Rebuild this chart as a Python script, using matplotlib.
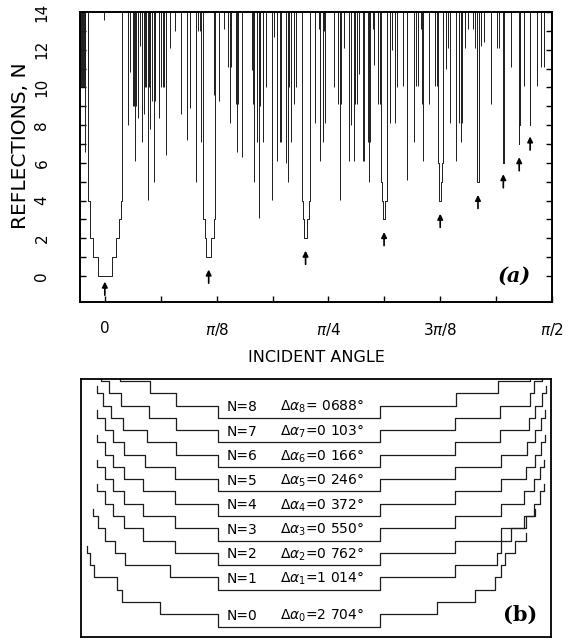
import numpy as np
import matplotlib
matplotlib.use("Agg")
import matplotlib.pyplot as plt
from matplotlib.ticker import FixedLocator

plt.rcParams['font.family'] = ['DejaVu Sans']
plt.rcParams['mathtext.fontset'] = 'dejavusans'

# ---------------- data : panel (a) ----------------
dip_N = [0, 1, 2, 3, 4, 5, 6, 7, 8]
dip_angle_deg = [0.0, 20.9, 40.4, 56.2, 67.5, 75.1, 80.2, 83.4, 85.6]
arrow_tip_N = [-0.3, 0.34, 1.34, 2.33, 3.3, 4.3, 5.4, 6.3, 7.4]
delta_alpha_deg = [2.704, 1.014, 0.762, 0.550, 0.372, 0.246, 0.166, 0.103, 0.0688]
delta_alpha_text = ['2 704', '1 014', '0 762', '0 550', '0 372', '0 246', '0 166', '0 103', ' 0688']

# narrow spikes: angle (deg) and lowest reflection count reached
spike_deg = [-4.9, -4.7, -4.5, -4.3, -4.1, -3.95, -4.0, -0.1,
             4.6, 5.0, 5.6, 5.9, 6.0, 6.2, 6.7, 7.0, 7.5, 7.8, 8.0, 8.3, 8.6, 8.8, 9.0,
             9.5, 9.8, 10.0, 10.8, 11.4, 11.7, 12.0, 12.4, 13.1, 14.1, 15.3, 16.6, 17.2,
             18.4, 18.8, 19.1, 19.4,
             22.0, 23.0, 24.0, 24.8, 25.1, 25.4, 26.4, 26.7, 26.9, 27.7, 29.6, 29.9, 30.1,
             30.6, 31.0, 31.2, 31.8, 32.5, 33.6, 34.0, 34.7, 35.2, 35.5, 36.5, 36.8, 37.0,
             37.5, 38.0, 38.5,
             42.2, 43.2, 43.4, 43.9, 44.1, 44.4, 46.2, 47.0, 47.3, 47.6, 48.2, 49.2, 49.6,
             50.1, 50.4, 50.7, 51.2, 51.9, 52.2, 52.9, 53.2, 53.4, 54.0, 54.2, 55.0, 55.3,
             57.3, 57.7, 58.3, 58.9, 60.1, 60.9, 62.3, 62.6, 63.0, 63.6, 63.9, 64.1, 65.3,
             66.4, 66.8,
             68.0, 68.7, 69.0, 69.5, 70.7, 71.3, 71.6, 71.9, 72.5, 73.1, 74.2, 74.5,
             75.7, 76.3, 77.7, 79.0, 79.4, 81.7, 84.4, 87.0, 87.8, 88.4]
spike_N = [10.0, 10.0, 10.0, 10.0, 10.0, 10.0, 6.6, 13.6,
           8.0, 10.8, 9.0, 9.0, 6.1, 9.0, 8.4, 12.2, 7.1, 8.6, 10.0, 10.0, 4.05, 10.0, 7.8,
           9.3, 5.0, 9.3, 8.4, 10.0, 10.0, 10.0, 6.4, 12.1, 13.0, 8.6, 7.2, 8.9,
           5.0, 13.0, 13.0, 7.1,
           9.6, 9.3, 13.1, 11.1, 8.1, 11.1, 9.1, 6.6, 9.1, 6.3, 10.9, 9.1, 5.0,
           7.1, 3.1, 9.0, 7.1, 10.0, 4.05, 12.7, 6.1, 7.1, 7.1, 6.0, 5.0, 10.0,
           7.1, 9.1, 10.0,
           8.1, 13.1, 6.1, 7.1, 13.0, 8.1, 10.0, 9.1, 4.05, 9.1, 12.1, 6.1, 8.0,
           6.1, 9.1, 9.1, 10.7, 6.1, 6.1, 7.1, 5.0, 7.1, 13.1, 11.2, 9.1, 9.1,
           8.1, 12.0, 8.1, 10.0, 10.1, 5.1, 7.1, 10.1, 10.1, 13.1, 9.1, 6.1, 9.1,
           10.1, 10.1,
           13.1, 11.0, 12.1, 8.1, 6.1, 8.1, 7.1, 8.1, 12.1, 13.1, 13.1, 12.1,
           12.2, 12.4, 9.1, 12.1, 12.1, 11.1, 10.1, 10.1, 11.1, 11.1]

# step profile of each dip: edge of successive levels N, N+1, ... in units of
# delta_alpha/2, measured to the left and to the right of the dip centre
left_ratio = {
    0: [1.0, 1.72, 2.19, 2.25, 2.54, 2.58, 2.62],
    1: [1.0, 1.59, 2.15, 2.27, 2.40, 2.48, 2.55],
    2: [1.0, 1.53, 1.93, 2.16, 2.30, 2.40, 2.50],
    3: [1.0, 1.53, 1.93, 2.16, 2.30, 2.40, 2.50],
    4: [1.0, 1.53, 1.93, 2.16, 2.30, 2.40, 2.50],
    5: [1.0, 1.53, 1.90, 2.16, 2.30, 2.40, 2.50],
    6: [1.0, 1.52, 1.88, 2.18, 2.32, 2.42, 2.50],
    7: [1.0, 1.52, 1.86, 2.20, 2.35, 2.45, 2.52],
    8: [1.0, 1.52, 1.84, 2.21, 2.40, 2.50, 2.55],
}
right_ratio = {
    0: [1.0, 1.70, 2.17, 2.42, 2.50, 2.54, 2.67, 2.80],
    1: [1.0, 1.93, 2.44, 2.50, 2.62, 2.80, 2.92],
    2: [1.0, 1.93, 2.49, 2.78, 2.90, 2.98, 3.03],
    3: [1.0, 1.93, 2.49, 2.78, 2.90, 2.98, 3.03],
    4: [1.0, 1.93, 2.49, 2.80, 2.92, 2.99, 3.04],
    5: [1.0, 1.93, 2.49, 2.82, 2.92, 2.99, 3.04],
    6: [1.0, 1.93, 2.48, 2.84, 2.92, 3.00, 3.05],
    7: [1.0, 1.93, 2.48, 2.85, 2.90, 3.00, 3.05],
    8: [1.0, 1.94, 2.46, 2.85, 2.90, 3.00, 3.05],
}
levels_in_a = [5, 3, 3, 3, 3, 2, 2, 2, 2]
# vertical offset of each curve in panel (b), in step units
curve_offset_b = [0, 3, 5, 7, 9, 11, 13, 15, 17]

x_tick_labels = ['0', r'$\pi$/8', r'$\pi$/4', r'3$\pi$/8', r'$\pi$/2']
y_tick_labels = ['0', '2', '4', '6', '8', '10', '12', '14']

INK = '#1c1c1c'


def outline(center, hl, hr, base, top_l, top_r):
    """step outline: level base+j between centre-hl[j] and centre+hr[j]."""
    xs, ys = [center - hl[-1]], [top_l]
    for j in range(len(hl) - 1, -1, -1):
        xs.append(center - hl[j]); ys.append(base + j)
        if j > 0:
            xs.append(center - hl[j - 1]); ys.append(base + j)
    for j in range(0, len(hr)):
        if j > 0:
            xs.append(center + hr[j - 1]); ys.append(base + j)
        xs.append(center + hr[j]); ys.append(base + j)
    xs.append(center + hr[-1]); ys.append(top_r)
    return xs, ys


fig = plt.figure(figsize=(5.79, 6.40), dpi=100)

# ---------------- panel (a) ----------------
axA = fig.add_axes([80 / 579, 1 - 302 / 640, 472 / 579, 290 / 640])
axA.set_xlim(-5.0, 90.0)
axA.set_ylim(-1.38, 14.0)

axA.vlines(spike_deg, spike_N, 14.5, color=INK, lw=0.7)

for n, c, d, k, tip in zip(dip_N, dip_angle_deg, delta_alpha_deg, levels_in_a, arrow_tip_N):
    hl = [r * d / 2 for r in left_ratio[n][:k]]
    hr = [r * d / 2 for r in right_ratio[n][:k]]
    xs, ys = outline(c, hl, hr, n, 14.5, 14.5)
    axA.plot(xs, ys, color=INK, lw=0.7)
    axA.annotate('', xy=(c, tip), xytext=(c, tip - 0.72),
                 arrowprops=dict(arrowstyle='-|>', color='black', lw=1.2,
                                 mutation_scale=8, shrinkA=0, shrinkB=0))

axA.xaxis.set_major_locator(FixedLocator([0, 22.5, 45, 67.5, 90]))
axA.xaxis.set_minor_locator(FixedLocator([11.25, 33.75, 56.25, 78.75]))
axA.set_xticklabels(x_tick_labels, fontsize=11)
axA.yaxis.set_major_locator(FixedLocator(list(range(0, 15, 2))))
axA.yaxis.set_minor_locator(FixedLocator(list(range(1, 15, 2))))
axA.set_yticklabels(y_tick_labels, fontsize=11, rotation=90, va='center')
axA.tick_params(axis='x', which='both', direction='in', length=4, width=1.0,
                top=False, pad=14)
axA.tick_params(axis='y', which='both', direction='in', length=4, width=1.0,
                right=True, pad=22)
for s in axA.spines.values():
    s.set_linewidth(1.4)
axA.set_xlabel('INCIDENT ANGLE', fontsize=11.5)
axA.xaxis.set_label_coords(0.5, -0.165)
axA.set_ylabel('REFLECTIONS, N', fontsize=14.5)
axA.yaxis.set_label_coords(-0.106, 0.54)
axA.text(0.92, 0.09, '(a)', transform=axA.transAxes, fontsize=15,
         family='DejaVu Serif', weight='bold', style='italic', ha='center', va='center')

# ---------------- panel (b) ----------------
axB = fig.add_axes([80.7 / 579, 1 - 636.5 / 640, 470 / 579, 258 / 640])
axB.set_xlim(-2.70, 3.11)
axB.set_ylim(-0.81, 20.2)
axB.set_xticks([])
axB.set_yticks([])
for s in axB.spines.values():
    s.set_linewidth(1.3)

for n, off, txt in zip(dip_N, curve_offset_b, delta_alpha_text):
    hl, hr = left_ratio[n], right_ratio[n]
    xs, ys = outline(0.0, hl, hr, off, off + len(hl) - 0.4, off + len(hr) - 0.4)
    axB.plot(xs, ys, color=INK, lw=0.9)
    axB.text(-0.89, off + 0.55, 'N=%d' % n, fontsize=10, ha='left', va='baseline')
    axB.text(-0.24, off + 0.55, r'$\Delta\alpha_{%d}$=%s°' % (n, txt), fontsize=10,
             ha='left', va='baseline')

axB.text(0.935, 0.085, '(b)', transform=axB.transAxes, fontsize=15,
         family='DejaVu Serif', weight='bold', ha='center', va='center')

fig.savefig('out.png', dpi=100)
